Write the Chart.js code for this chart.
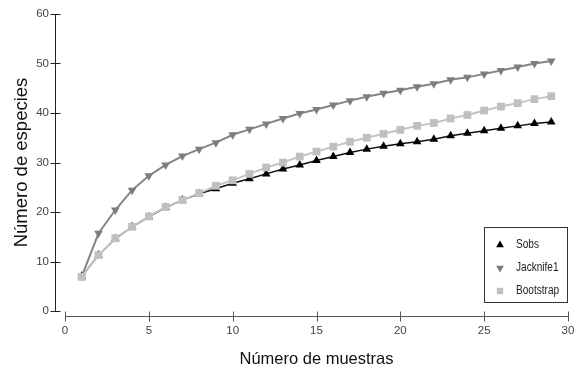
<!DOCTYPE html>
<html>
<head>
<meta charset="utf-8">
<script src="https://cdn.jsdelivr.net/npm/chart.js@4.4.1/dist/chart.umd.min.js"></script>
<style>
  html, body { margin: 0; padding: 0; background: #fff; }
  #wrap { width: 582px; height: 373px; position: relative; }
</style>
</head>
<body>
<div id="wrap"><canvas id="curveChart"></canvas></div>
<script>
// Número de muestras (x) and the three estimators
const samples = [1, 2, 3, 4, 5, 6, 7, 8, 9, 10, 11, 12, 13, 14, 15, 16, 17, 18, 19, 20, 21, 22, 23, 24, 25, 26, 27, 28, 29];
const sobs = [7.0, 11.3, 14.6, 17.0, 19.0, 20.9, 22.4, 23.7, 24.7, 25.8, 26.7, 27.7, 28.7, 29.5, 30.4,
              31.2, 32.0, 32.7, 33.3, 33.8, 34.2, 34.7, 35.4, 35.9, 36.4, 36.9, 37.4, 37.9, 38.2];
const jacknife1 = [7.0, 15.7, 20.4, 24.4, 27.3, 29.5, 31.3, 32.7, 34.0, 35.6, 36.7, 37.8, 38.9, 39.9, 40.7,
                   41.6, 42.5, 43.3, 44.0, 44.6, 45.3, 45.9, 46.7, 47.2, 47.9, 48.6, 49.3, 50.0, 50.5];
const bootstrap = [6.9, 11.3, 14.7, 17.0, 19.1, 21.0, 22.4, 23.8, 25.3, 26.4, 27.7, 29.0, 30.0, 31.2, 32.2,
                   33.2, 34.2, 35.0, 35.8, 36.6, 37.4, 38.0, 38.9, 39.6, 40.5, 41.3, 42.0, 42.8, 43.4];
const xTicks = [0, 5, 10, 15, 20, 25, 30];
const yTicks = [0, 10, 20, 30, 40, 50, 60];

const sans = "'Liberation Sans', Arial, sans-serif";

const toPoints = (vals) => vals.map((v, i) => ({ x: samples[i], y: v }));

// axes sit a little away from the plot area, as in the original figure
const offsetAxes = {
    id: 'offsetAxes',
    afterDraw(chart) {
        const { ctx } = chart;
        const x = chart.scales.x;
        const y = chart.scales.y;
        ctx.save();
        ctx.lineWidth = 1;

        const ax = Math.round(x.left - 10) + 0.5;
        ctx.strokeStyle = '#222';
        ctx.beginPath();
        ctx.moveTo(ax, y.getPixelForValue(yTicks[yTicks.length - 1]));
        ctx.lineTo(ax, y.getPixelForValue(yTicks[0]));
        yTicks.forEach(v => {
            const py = Math.round(y.getPixelForValue(v)) + 0.5;
            ctx.moveTo(ax - 5, py);
            ctx.lineTo(ax + 5, py);
        });
        ctx.stroke();

        const ay = Math.round(y.bottom + 5) + 0.5;
        ctx.strokeStyle = '#555';
        ctx.beginPath();
        ctx.moveTo(x.getPixelForValue(xTicks[0]), ay);
        ctx.lineTo(x.getPixelForValue(xTicks[xTicks.length - 1]), ay);
        xTicks.forEach(v => {
            const px = Math.round(x.getPixelForValue(v)) + 0.5;
            ctx.moveTo(px, ay - 5);
            ctx.lineTo(px, ay + 5);
        });
        ctx.stroke();
        ctx.restore();
    }
};

// boxed legend in the lower right corner
const boxLegend = {
    id: 'boxLegend',
    afterDraw(chart) {
        const { ctx } = chart;
        const left = 484, top = 227, w = 83, h = 75;
        ctx.save();
        ctx.fillStyle = '#fff';
        ctx.fillRect(left, top, w, h);
        ctx.strokeStyle = '#333';
        ctx.lineWidth = 1;
        ctx.strokeRect(left + 0.5, top + 0.5, w, h);
        chart.data.datasets.forEach((ds, i) => {
            const cy = top + 18 + i * 23;
            ctx.fillStyle = ds.pointBackgroundColor;
            Chart.helpers.drawPoint(ctx, {
                pointStyle: ds.pointStyle,
                radius: 4.5,
                rotation: ds.pointRotation || 0,
                borderWidth: 0
            }, left + 16, cy);
            // narrow lettering like the original
            ctx.save();
            ctx.translate(left + 32, cy);
            ctx.scale(0.84, 1);
            ctx.font = '12px ' + sans;
            ctx.textBaseline = 'middle';
            ctx.textAlign = 'left';
            ctx.fillStyle = '#222';
            ctx.fillText(ds.label, 0, 0);
            ctx.restore();
        });
        ctx.restore();
    }
};

new Chart(document.getElementById('curveChart'), {
    type: 'line',
    data: {
        datasets: [
            {
                label: 'Sobs',
                data: toPoints(sobs),
                borderColor: '#111',
                borderWidth: 1.5,
                pointStyle: 'triangle',
                pointRadius: 5,
                pointBackgroundColor: '#000',
                pointBorderWidth: 0,
                order: 3
            },
            {
                label: 'Jacknife1',
                data: toPoints(jacknife1),
                borderColor: '#858585',
                borderWidth: 2,
                pointStyle: 'triangle',
                pointRotation: 180,
                pointRadius: 5,
                pointBackgroundColor: '#7d7d7d',
                pointBorderWidth: 0,
                order: 2
            },
            {
                label: 'Bootstrap',
                data: toPoints(bootstrap),
                borderColor: '#c4c4c4',
                borderWidth: 2,
                pointStyle: 'rect',
                pointRadius: 5.5,
                pointBackgroundColor: '#c0c0c0',
                pointBorderWidth: 0,
                order: 1
            }
        ]
    },
    options: {
        responsive: true,
        maintainAspectRatio: false,
        animation: false,
        layout: { padding: { top: 14, right: 14, left: 0, bottom: 0 } },
        plugins: {
            legend: { display: false },
            tooltip: { enabled: false }
        },
        scales: {
            x: {
                type: 'linear',
                min: 0,
                max: 30,
                afterFit: (s) => { s.height = 62; s.paddingLeft = 0; s.paddingRight = 0; },
                afterBuildTicks: (s) => { s.ticks = xTicks.map(v => ({ value: v })); },
                grid: { display: false },
                border: { display: false },
                ticks: { padding: 5, color: '#444', font: { family: sans, size: 11.5 }, maxRotation: 0 },
                title: {
                    display: true,
                    text: 'Número de muestras',
                    color: '#111',
                    font: { family: sans, size: 16.5 },
                    padding: { top: 0, bottom: 4 }
                }
            },
            y: {
                min: 0,
                max: 60,
                afterFit: (s) => { s.width = 65; s.paddingTop = 0; s.paddingBottom = 0; },
                afterBuildTicks: (s) => { s.ticks = yTicks.map(v => ({ value: v })); },
                grid: { display: false },
                border: { display: false },
                ticks: { padding: 8, color: '#444', font: { family: sans, size: 11.5 } },
                title: {
                    display: true,
                    text: 'Número de especies',
                    color: '#111',
                    font: { family: sans, size: 18.5 },
                    padding: { top: 11, bottom: 0 }
                }
            }
        }
    },
    plugins: [offsetAxes, boxLegend]
});
</script>
</body>
</html>
